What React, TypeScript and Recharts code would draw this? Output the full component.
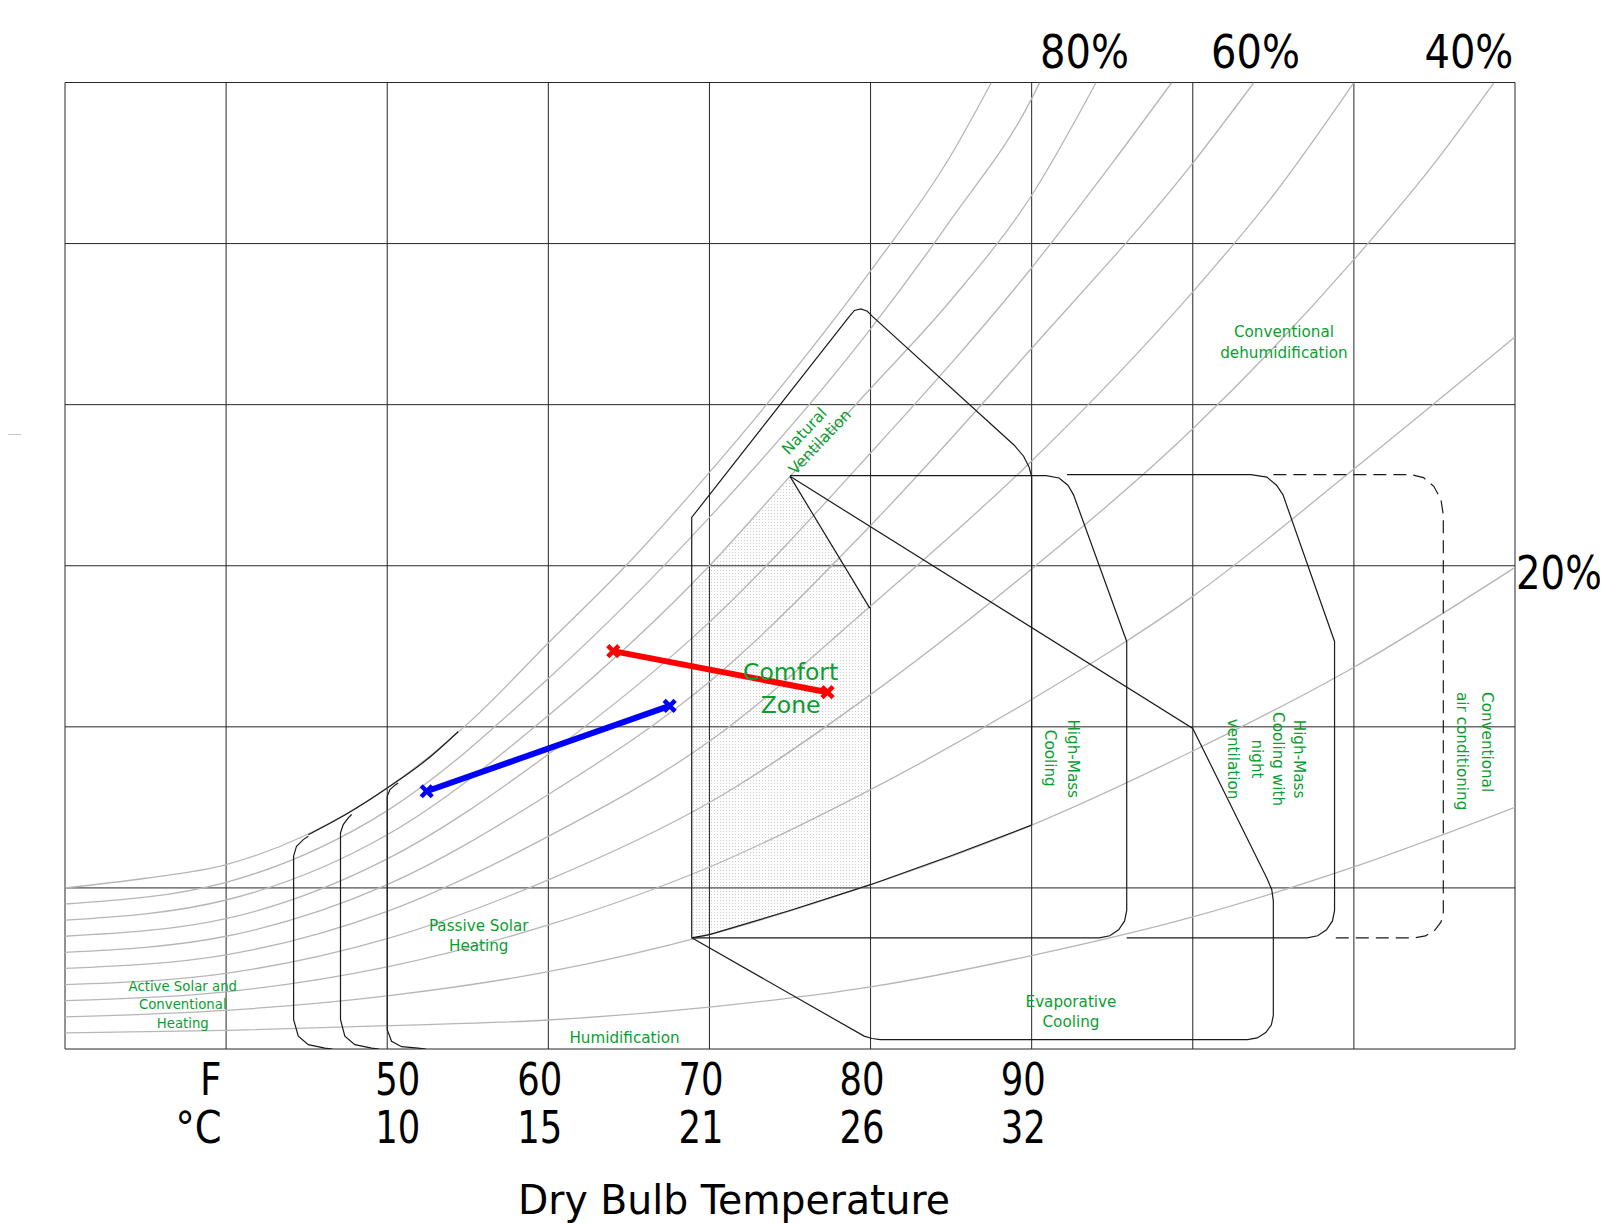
import React from "react";
import { ComposedChart, Line, Area, Scatter, XAxis, YAxis, ReferenceLine } from "recharts";

type Pt = [number, number];

const FONT = "'DejaVu Sans', Verdana, sans-serif";
const GREEN = "#0a9e2f";
const CURVE = "#b6b6b6";
const INK = "#1a1a1a";
const GRID = "#262626";

// grid (dry bulb °F on x, humidity ratio in grid units on y)
const gridTemps = [30, 40, 50, 60, 70, 80, 90, 100, 110, 120];
const gridLevels = [0, 1, 2, 3, 4, 5, 6];

// axis tick labels
const tickTemps = [39, 50, 60, 70, 80, 90];
const fahrenheitLabels = ["F", "50", "60", "70", "80", "90"];
const celsiusLabels = ["°C", "10", "15", "21", "26", "32"];

// relative humidity labels
const rhTopTemps = [93.28, 103.89, 117.14];
const rhTopText = ["80%", "60%", "40%"];
const rhSideLevels = [2.964];
const rhSideText = ["20%"];

// relative humidity curves [temp, level]
const rh100: Pt[] = [[30, 1.0], [35, 1.06], [40, 1.145], [45, 1.33], [50, 1.62], [55, 2.02], [60, 2.52], [65, 3.02], [70, 3.58], [75, 4.18], [80, 4.83], [85, 5.55], [87.5, 6.0]];
const rh90: Pt[] = [[30, 0.9], [40, 1.035], [50, 1.48], [60, 2.3], [70, 3.3], [80, 4.47], [85, 5.15], [90, 5.9], [90.5, 6.0]];
const rh80: Pt[] = [[30, 0.8], [40, 0.925], [50, 1.33], [60, 2.07], [70, 3.0], [75, 3.555], [80, 4.1], [85, 4.65], [90, 5.3], [94, 6.0]];
const rh70: Pt[] = [[30, 0.7], [40, 0.81], [50, 1.18], [60, 1.83], [70, 2.65], [80, 3.7], [90, 4.85], [95, 5.5], [98.7, 6.0]];
const rh60: Pt[] = [[30, 0.6], [40, 0.7], [50, 1.02], [60, 1.58], [70, 2.28], [80, 3.25], [90, 4.35], [100, 5.5], [103.8, 6.0]];
const rh50: Pt[] = [[30, 0.5], [40, 0.585], [50, 0.855], [60, 1.32], [70, 1.91], [80, 2.75], [90, 3.65], [100, 4.7], [105, 5.3], [110, 6.0]];
const rh40: Pt[] = [[30, 0.4], [40, 0.47], [50, 0.685], [60, 1.05], [70, 1.53], [80, 2.2], [90, 2.98], [100, 3.85], [110, 4.9], [115, 5.5], [118.7, 6.0]];
const rh30: Pt[] = [[30, 0.3], [40, 0.355], [50, 0.51], [60, 0.77], [70, 1.13], [80, 1.61], [90, 2.17], [100, 2.81], [110, 3.6], [120, 4.42]];
const rh20: Pt[] = [[30, 0.2], [40, 0.24], [50, 0.33], [60, 0.48], [70, 0.71], [80, 1.02], [90, 1.39], [100, 1.85], [110, 2.37], [120, 2.99]];
const rh10: Pt[] = [[30, 0.1], [40, 0.115], [50, 0.145], [60, 0.18], [70, 0.26], [80, 0.385], [90, 0.58], [100, 0.82], [110, 1.13], [120, 1.5]];

// design strategy zones
const naturalVent: Pt[] = [[68.9, 0.69], [68.9, 3.3], [78.7, 4.55], [79.0, 4.585], [79.4, 4.595], [79.8, 4.58], [80.1, 4.55], [88.9, 3.75], [89.5, 3.68], [89.85, 3.61], [90, 3.55], [90, 1.39], [85, 1.2], [80, 1.02], [75, 0.86], [70, 0.71], [68.9, 0.69]];
const comfortEdge: Pt[] = [[75, 3.555], [79.95, 2.737]];
const highMass: Pt[] = [[75, 3.56], [90.9, 3.56], [91.7, 3.545], [92.25, 3.5], [92.6, 3.44], [95.9, 2.53], [95.9, 0.86], [95.77, 0.795], [95.4, 0.74], [94.85, 0.703], [94.2, 0.69], [68.9, 0.69]];
const nightVent: Pt[] = [[92.2, 3.566], [103.6, 3.566], [104.6, 3.55], [105.2, 3.5], [105.6, 3.44], [108.8, 2.53], [108.8, 0.86], [108.67, 0.795], [108.3, 0.74], [107.75, 0.703], [107.1, 0.69], [95.9, 0.69]];
const airCond: Pt[] = [[105, 3.566], [113.55, 3.566], [114.32, 3.547], [114.96, 3.493], [115.4, 3.412], [115.55, 3.316], [115.55, 0.85], [115.41, 0.789], [115.02, 0.737], [114.44, 0.702], [113.75, 0.69], [108.7, 0.69]];
const evaporative: Pt[] = [[75, 3.555], [100, 1.99], [104.6, 1.06], [104.9, 0.99], [105, 0.92], [105, 0.21], [104.88, 0.15], [104.53, 0.102], [104.0, 0.069], [103.4, 0.058], [80.6, 0.058], [80.1, 0.065], [79.6, 0.08], [68.9, 0.69]];
const heatingTop: Pt[] = [[45.1, 1.33], [47.5, 1.46], [50, 1.62], [52.5, 1.8], [54.4, 1.97]];
const passiveA: Pt[] = [[45.1, 1.321], [44.79, 1.3], [44.37, 1.259], [44.19, 1.197], [44.19, 0.182], [44.48, 0.079], [45.1, 0.027], [46.13, 0.006], [46.6, 0]];
const passiveB: Pt[] = [[47.79, 1.456], [47.58, 1.435], [47.27, 1.393], [47.1, 1.342], [47.1, 0.182], [47.37, 0.079], [47.99, 0.027], [49.03, 0.006], [49.5, 0]];
const passiveC: Pt[] = [[50.68, 1.652], [50.48, 1.638], [50.17, 1.611], [50.0, 1.569], [50.0, 0.12], [50.27, 0.048], [50.89, 0.0145], [51.92, 0.006], [52.4, 0]];

// comfort zone band [temp, low, high]
const comfortBand: [number, number, number][] = [[68.9, 0.69, 2.9], [70, 0.71, 3.0], [75, 0.86, 3.555], [80, 1.02, 2.737]];

// measured paths
const redPath: Pt[] = [[64.03, 2.47], [77.33, 2.215]];
const bluePath: Pt[] = [[52.45, 1.6], [67.53, 2.13]];

// zone captions [temp, level, text]
type Cap = [number, number, string];
const zoneCaps: Cap[] = [
  [55.68, 0.734, "Passive Solar"], [55.68, 0.61, "Heating"],
  [64.73, 0.037, "Humidification"],
  [92.44, 0.263, "Evaporative"], [92.44, 0.138, "Cooling"],
  [105.66, 4.42, "Conventional"], [105.66, 4.287, "dehumidification"],
];
const heatingCaps: Cap[] = [[37.31, 0.363, "Active Solar and"], [37.31, 0.248, "Conventional"], [37.31, 0.133, "Heating"]];
const comfortCaps: Cap[] = [[75.04, 2.291, "Comfort"], [75.04, 2.088, "Zone"]];
const ventCaps: Cap[] = [[75.9, 3.835, "Natural"], [76.86, 3.768, "Ventilation"]];
const verticalCaps: Cap[] = [
  [92.58, 1.802, "High-Mass"], [91.14, 1.805, "Cooling"],
  [106.59, 1.8, "High-Mass"], [105.26, 1.8, "Cooling with"], [103.97, 1.8, "night"], [102.5, 1.8, "ventilation"],
];
const acCaps: Cap[] = [[118.29, 2.216, "Conventional"], [116.74, 2.216, "air conditioning"]];

const toPts = (a: Pt[]) => a.map(([t, v]) => ({ t, v }));
const toCaps = (a: Cap[]) => a.map(([t, v, text]) => ({ t, v, text }));

const rhCurves = [rh100, rh90, rh80, rh70, rh60, rh50, rh40, rh30, rh20, rh10];
const zoneLines = [naturalVent, comfortEdge, highMass, nightVent, evaporative, passiveA, passiveB, passiveC];

const TICK_END_OFFSET = [11.5, 33, 14, 14, 14, 14];

function TempTick(props: any) {
  const { x, y, index } = props;
  const ex = x + (TICK_END_OFFSET[index] ?? 14);
  const wF = index === 0 ? 21.5 : 45;
  const wC = index === 0 ? 46 : 45;
  return (
    <g>
      <text x={ex} y={y + 46} textAnchor="end" fontFamily={FONT} fontSize={45} fill="#000" textLength={wF} lengthAdjust="spacingAndGlyphs">
        {fahrenheitLabels[index]}
      </text>
      <text x={ex} y={y + 94.4} textAnchor="end" fontFamily={FONT} fontSize={45} fill="#000" textLength={wC} lengthAdjust="spacingAndGlyphs">
        {celsiusLabels[index]}
      </text>
    </g>
  );
}

function RhTopTick(props: any) {
  const { x, y, index } = props;
  return (
    <text x={x} y={y - 14.5} textAnchor="middle" fontFamily={FONT} fontSize={46} fill="#000" textLength={89} lengthAdjust="spacingAndGlyphs">
      {rhTopText[index]}
    </text>
  );
}

function RhSideTick(props: any) {
  const { x, y, index } = props;
  // squeeze horizontally so the label ends inside the page
  return (
    <text transform={`translate(${x + 1} ${y + 17}) scale(0.84 1)`} x={0} y={0} textAnchor="start" fontFamily={FONT} fontSize={46} fill="#000">
      {rhSideText[index]}
    </text>
  );
}

function AxisTitle(props: any) {
  const vb = props.viewBox || { x: 57, y: 1041, width: 1450, height: 174 };
  return (
    <text x={726} y={vb.y + 165} textAnchor="middle" fontFamily={FONT} fontSize={41} fill="#000" textLength={432} lengthAdjust="spacingAndGlyphs">
      Dry Bulb Temperature
    </text>
  );
}

function Cross({ cx, cy, color }: { cx?: number; cy?: number; color: string }) {
  if (cx == null || cy == null) return null;
  const r = 5.5;
  return (
    <g>
      <line x1={cx - r} y1={cy - r} x2={cx + r} y2={cy + r} stroke={color} strokeWidth={4.5} />
      <line x1={cx - r} y1={cy + r} x2={cx + r} y2={cy - r} stroke={color} strokeWidth={4.5} />
    </g>
  );
}

function caption(size: number, rotate = 0, anchor: "middle" | "start" = "middle", central = false) {
  return (p: any) => (
    <text
      x={p.cx}
      y={p.cy}
      textAnchor={anchor}
      dominantBaseline={central ? "central" : "auto"}
      transform={rotate ? `rotate(${rotate} ${p.cx} ${p.cy})` : undefined}
      fontFamily={FONT}
      fontSize={size}
      fill={GREEN}
    >
      {p.payload.text}
    </text>
  );
}

const noMark = () => <g />;

export default function App() {
  return (
    <div style={{ width: 1600, height: 1215, position: "relative" }}>
      <div style={{ position: "absolute", left: -8, top: 426, width: 21, height: 1, background: "#c8c8c8" }} />
      <ComposedChart width={1600} height={1215} margin={{ top: 0, right: 0, bottom: 0, left: 57 }}>
        <defs>
          <pattern id="comfortDots" width="3" height="3" patternUnits="userSpaceOnUse">
            <rect width="3" height="3" fill="#fdfdfd" />
            <rect x="1" y="1" width="1" height="1" fill="#cdcdcd" />
          </pattern>
        </defs>
        <XAxis
          dataKey="t"
          type="number"
          domain={[30, 120]}
          allowDataOverflow
          ticks={tickTemps}
          interval={0}
          height={174}
          tickLine={false}
          axisLine={false}
          tickSize={0}
          tickMargin={0}
          tick={<TempTick />}
          label={<AxisTitle />}
        />
        <XAxis
          xAxisId="top"
          orientation="top"
          dataKey="t"
          type="number"
          domain={[30, 120]}
          allowDataOverflow
          ticks={rhTopTemps}
          interval={0}
          height={74.5}
          tickLine={false}
          axisLine={false}
          tickSize={0}
          tickMargin={0}
          tick={<RhTopTick />}
        />
        <YAxis type="number" domain={[0, 6]} allowDataOverflow hide />
        <YAxis
          yAxisId="right"
          orientation="right"
          type="number"
          domain={[0, 6]}
          allowDataOverflow
          ticks={rhSideLevels}
          interval={0}
          width={93}
          tickLine={false}
          axisLine={false}
          tickSize={0}
          tickMargin={0}
          tick={<RhSideTick />}
        />

        <Area
          data={comfortBand.map(([t, lo, hi]) => ({ t, band: [lo, hi] }))}
          dataKey="band"
          type="linear"
          stroke="none"
          fill="url(#comfortDots)"
          fillOpacity={1}
          isAnimationActive={false}
          activeDot={false}
        />

        {gridTemps.map((t) => (
          <ReferenceLine key={"gx" + t} x={t} stroke={GRID} strokeWidth={1} />
        ))}
        {gridLevels.map((v) => (
          <ReferenceLine key={"gy" + v} y={v} stroke={GRID} strokeWidth={1} />
        ))}

        {rhCurves.map((c, i) => (
          <Line key={"rh" + i} data={toPts(c)} dataKey="v" type="monotone" stroke={CURVE} strokeWidth={1.3} dot={false} activeDot={false} isAnimationActive={false} />
        ))}

        {zoneLines.map((z, i) => (
          <Line key={"zone" + i} data={toPts(z)} dataKey="v" type="linear" stroke={INK} strokeWidth={1.2} dot={false} activeDot={false} isAnimationActive={false} />
        ))}
        <Line data={toPts(heatingTop)} dataKey="v" type="monotone" stroke={INK} strokeWidth={1.2} dot={false} activeDot={false} isAnimationActive={false} />
        <Line data={toPts(airCond)} dataKey="v" type="linear" stroke={INK} strokeWidth={1.2} strokeDasharray="13 7" dot={false} activeDot={false} isAnimationActive={false} />

        <Line
          data={toPts(redPath)}
          dataKey="v"
          type="linear"
          stroke="#ff0000"
          strokeWidth={6}
          dot={(p: any) => <Cross key={"rd" + p.index} cx={p.cx} cy={p.cy} color="#ff0000" />}
          activeDot={false}
          isAnimationActive={false}
        />
        <Line
          data={toPts(bluePath)}
          dataKey="v"
          type="linear"
          stroke="#0000ff"
          strokeWidth={6}
          dot={(p: any) => <Cross key={"bd" + p.index} cx={p.cx} cy={p.cy} color="#0000ff" />}
          activeDot={false}
          isAnimationActive={false}
        />

        <Scatter data={toCaps(zoneCaps)} dataKey="v" isAnimationActive={false} shape={caption(15.2)} />
        <Scatter data={toCaps(heatingCaps)} dataKey="v" isAnimationActive={false} shape={caption(13.3)} />
        <Scatter data={toCaps(comfortCaps)} dataKey="v" isAnimationActive={false} shape={caption(23.5)} />
        <Scatter data={toCaps(ventCaps)} dataKey="v" isAnimationActive={false} shape={caption(15.5, -46.5, "middle", true)} />
        <Scatter data={toCaps(verticalCaps)} dataKey="v" isAnimationActive={false} shape={caption(15.2, 90, "middle", true)} />
        <Scatter data={toCaps(acCaps)} dataKey="v" isAnimationActive={false} shape={caption(15.2, 90, "start", true)} />

        {/* anchors so the label axes get a domain */}
        <Scatter xAxisId="top" data={rhTopTemps.map((t) => ({ t, v: 6 }))} dataKey="v" isAnimationActive={false} shape={noMark} />
        <Scatter yAxisId="right" data={rhSideLevels.map((v) => ({ t: 120, v }))} dataKey="v" isAnimationActive={false} shape={noMark} />
      </ComposedChart>
    </div>
  );
}
